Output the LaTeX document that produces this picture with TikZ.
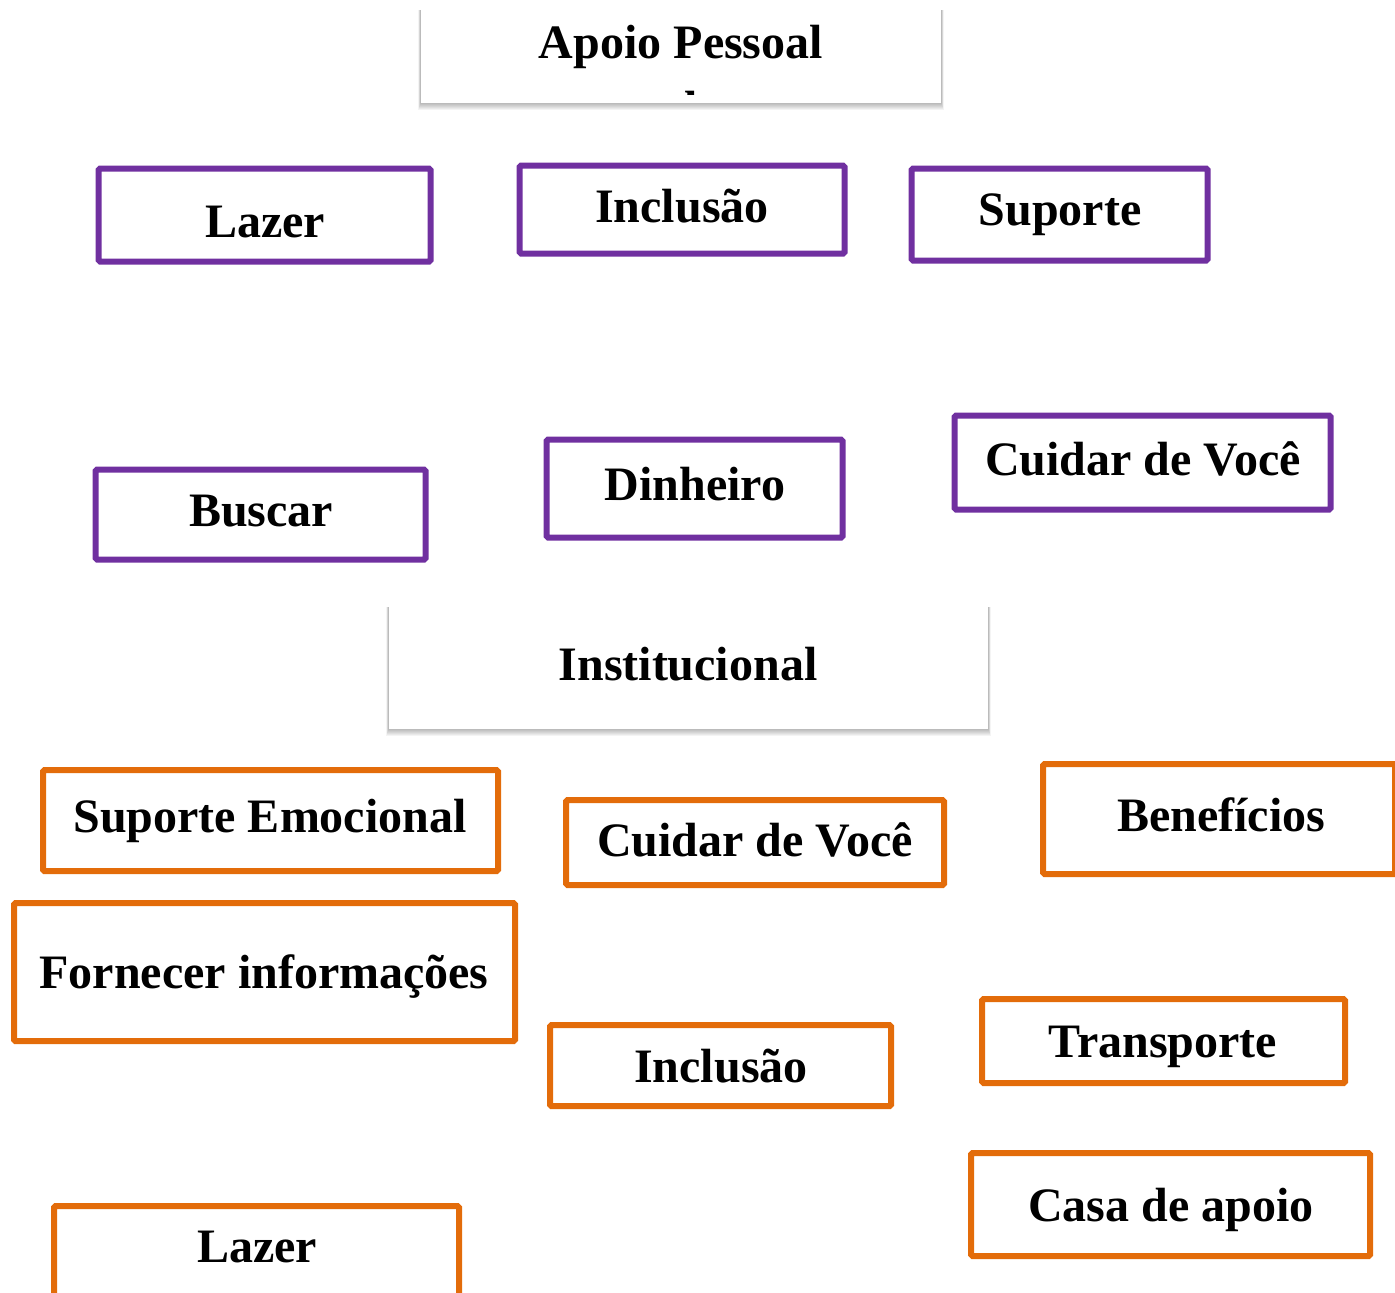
\documentclass[tikz,border=0pt]{standalone}
\usepackage{fontspec}
\setmainfont{Liberation Serif}
\usetikzlibrary{backgrounds}
\definecolor{ppurple}{HTML}{7030A0}
\definecolor{porange}{HTML}{E36C0A}
\tikzset{
  pbox/.style={draw=ppurple, line width=6pt, rounded corners=1.5pt, inner sep=0pt},
  obox/.style={draw=porange, line width=6pt, rounded corners=1.5pt, inner sep=0pt},
  wbox/.style={fill=white, inner sep=0pt},
  shade box/.style={fill=black, opacity=0.045},
  txt/.style={anchor=base, inner sep=0pt, font=\fontsize{48}{58}\selectfont\bfseries}
}
\newcommand{\softshadow}[1]{%
  \begin{scope}[on background layer]
  \foreach \k in {1,...,7}{
    \fill[shade box] ([xshift=-\k*0.35pt, yshift=-2pt]#1.north west) rectangle ([xshift=\k*0.35pt, yshift=-\k*0.9pt]#1.south east);
  }
  \end{scope}}
\begin{document}
\begin{tikzpicture}[x=1pt,y=-1pt]
\useasboundingbox (0,0) rectangle (1395,1293);
\clip (0,0) rectangle (1395,1293);
% white header boxes
\node[wbox, minimum width=520pt, minimum height=95pt] (hA) at (681,55.5) {};
\softshadow{hA}
\node[txt] (hAt) at (681,58) {Apoio Pessoal};
\begin{scope}
\clip (421,8) rectangle (941,94);
\node[txt] (hAt2) at (691,124) {l};
\end{scope}
\node[wbox, minimum width=599pt, minimum height=124pt] (hI) at (688.5,667) {};
\softshadow{hI}
\node[txt] (hIt) at (688,680) {Institucional};
% purple boxes
\node[pbox, minimum width=332pt, minimum height=93pt] (p1) at (264.5,215) {};
\node[txt] (p1t) at (265,237) {Lazer};
\node[pbox, minimum width=325pt, minimum height=88pt] (p2) at (682,209.5) {};
\node[txt] (p2t) at (682,222) {Inclusão};
\node[pbox, minimum width=296pt, minimum height=92pt] (p3) at (1059.5,214.5) {};
\node[txt] (p3t) at (1060,225) {Suporte};
\node[pbox, minimum width=330pt, minimum height=90pt] (p4) at (260.5,514.5) {};
\node[txt] (p4t) at (261,526) {Buscar};
\node[pbox, minimum width=296pt, minimum height=98pt] (p5) at (694.5,488.5) {};
\node[txt] (p5t) at (695,500) {Dinheiro};
\node[pbox, minimum width=376pt, minimum height=94pt] (p6) at (1142.5,462.5) {};
\node[txt] (p6t) at (1143,475) {Cuidar de Você};
% orange boxes
\node[obox, minimum width=455pt, minimum height=101pt] (o1) at (270.5,820.5) {};
\node[txt] (o1t) at (270,832) {Suporte Emocional};
\node[obox, minimum width=378pt, minimum height=85pt] (o2) at (755,842.5) {};
\node[txt] (o2t) at (755,856) {Cuidar de Você};
\node[obox, minimum width=352pt, minimum height=110pt] (o3) at (1219,819) {};
\node[txt] (o3t) at (1221,831) {Benefícios};
\node[obox, minimum width=501pt, minimum height=138pt] (o4) at (264.5,972) {};
\node[txt] (o4t) at (264,988) {Fornecer informações};
\node[obox, minimum width=341pt, minimum height=81pt] (o5) at (720.5,1065.5) {};
\node[txt] (o5t) at (721,1082) {Inclusão};
\node[obox, minimum width=363pt, minimum height=84pt] (o6) at (1163.5,1041) {};
\node[txt] (o6t) at (1163,1057) {Transporte};
\node[obox, minimum width=399pt, minimum height=103pt] (o7) at (1170.5,1204.5) {};
\node[txt] (o7t) at (1171,1221) {Casa de apoio};
\node[obox, minimum width=405pt, minimum height=100pt] (o8) at (256.5,1256) {};
\node[txt] (o8t) at (257,1262) {Lazer};
\end{tikzpicture}
\end{document}
